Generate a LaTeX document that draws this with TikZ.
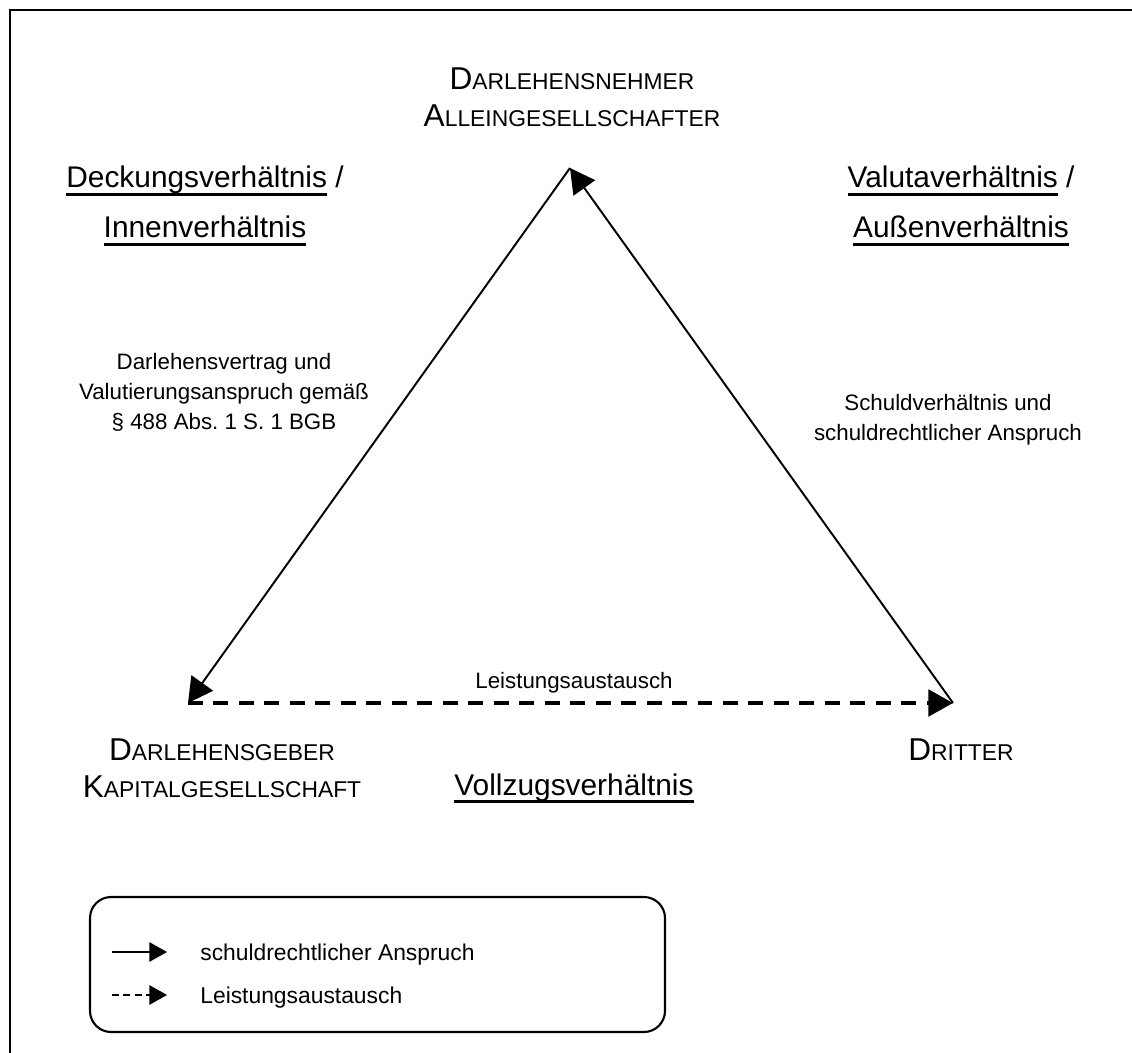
\documentclass[tikz,border=0pt]{standalone}
\usepackage{fontspec}
\setmainfont{Liberation Sans}
\usetikzlibrary{positioning,arrows.meta}

\newcommand{\kapit}[2]{{\fontsize{18}{21}\selectfont #1}{\fontsize{13}{21}\selectfont #2}}
\newcommand{\ulbox}[1]{\leavevmode\setbox0=\hbox{#1}\rlap{\rule[-4.5pt]{\wd0}{1.4pt}}\box0\relax}

\begin{document}
\begin{tikzpicture}[x=0.02cm,y=-0.02cm,
  party/.style={font=\fontsize{18}{21}\selectfont,align=center,inner sep=0pt},
  rel/.style={font=\fontsize{17}{28.5}\selectfont,align=center,inner sep=0pt},
  claim/.style={font=\fontsize{12.7}{17}\selectfont,align=center,inner sep=0pt},
  anspr/.style={-{Triangle[length=14pt,width=15pt]},line width=1.1pt},
  leist/.style={-{Triangle[length=14pt,width=15pt]},line width=2.4pt,dash pattern=on 8.5pt off 6pt},
  legpfeil/.style={-{Triangle[length=10pt,width=11pt]},line width=1pt},
  legtext/.style={font=\fontsize{13}{15}\selectfont,anchor=base west,inner sep=0pt},
]
\useasboundingbox (0,0) rectangle (1132,1053);

% === Frame ===
\draw[line width=1.2pt] (10,1053) -- (10,10) -- (1132,10);

% === Parties ===
\node[party] (nehmerlbl) at (572,97) {\kapit{D}{ARLEHENSNEHMER}\\\kapit{A}{LLEINGESELLSCHAFTER}};
\node[party] (geberlbl) at (222,768) {\kapit{D}{ARLEHENSGEBER}\\\kapit{K}{APITALGESELLSCHAFT}};
\node[party,anchor=base] (dritterlbl) at (961,760) {\kapit{D}{RITTER}};

% === Triangle corners ===
\coordinate (nehmer) at (570,168);
\coordinate (geber) at (188,703);
\coordinate (dritter) at (953,703);

% === Claims and exchange ===
\draw[anspr] (nehmer) -- (geber);
\draw[anspr] (dritter) -- (nehmer);
\draw[leist] (geber) -- (dritter);

% === Relationships ===
\node[rel] (deckung) at (205,206) {\ulbox{Deckungsverhältnis} /\\\ulbox{Innenverhältnis}};
\node[rel] (valuta) at (961,206) {\ulbox{Valutaverhältnis} /\\\ulbox{Außenverhältnis}};
\node[rel,anchor=base] (vollzug) at (574,795) {\ulbox{Vollzugsverhältnis}};

% === Edge labels ===
\node[claim] (vertrag) at (224,392) {Darlehensvertrag und\\Valutierungsanspruch gemäß\\§ 488 Abs.~1 S.~1 BGB};
\node[claim] (schuld) at (948,420) {Schuldverhältnis und\\schuldrechtlicher Anspruch};
\node[claim,anchor=base] (austausch) at (574,688) {Leistungsaustausch};

% === Legend ===
\draw[line width=1.2pt,rounded corners=12pt] (90,897) rectangle (665,1032);
\coordinate (leg1a) at (112,952);
\coordinate (leg1b) at (167,952);
\coordinate (leg2a) at (112,995);
\coordinate (leg2b) at (167,995);
\draw[legpfeil] (leg1a) -- (leg1b);
\draw[legpfeil,dash pattern=on 4pt off 2.5pt] (leg2a) -- (leg2b);
\node[legtext] (leg1txt) at (200,960) {schuldrechtlicher Anspruch};
\node[legtext] (leg2txt) at (200,1003) {Leistungsaustausch};

\end{tikzpicture}
\end{document}
